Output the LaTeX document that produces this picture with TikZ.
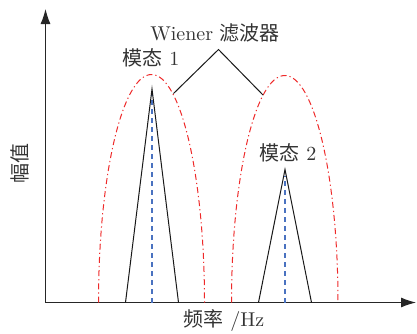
\documentclass[tikz,border=0pt]{standalone}
\usepackage{fontspec}
\newfontfamily\cjk{Noto Sans CJK SC}
\usetikzlibrary{arrows.meta}
\definecolor{filtre}{HTML}{EE2A2A}
\definecolor{centre}{HTML}{4A72C0}

\begin{document}
\begin{tikzpicture}[
  x=0.5pt, y=-0.5pt,
  font=\normalsize,
  axe/.style={-{Latex[length=7.5pt, width=5pt]}, black!85, line width=0.5pt},
  pic/.style={black!90, line width=0.5pt},
  fenetre/.style={filtre, line width=0.5pt, dash pattern=on 3pt off 1.5pt on 0.6pt off 1.5pt},
  axecentral/.style={centre, line width=0.7pt, dash pattern=on 2.5pt off 2pt},
  etiq/.style={text=black!80, inner sep=1pt},
]
\useasboundingbox (0,0) rectangle (417,333);
% axes
\coordinate (o) at (45.5,302.5);
\coordinate (ytop) at (45.5,9);
\coordinate (xend) at (416,302.5);
\draw[axe] (o) -- (ytop);
\draw[axe] (o) -- (xend);
\node[etiq, rotate=90] (ylab) at (20,163) {\cjk 幅值};
\node[etiq] (xlab) at (224,321) {{\cjk 频率} /Hz};
% les deux fenetres de Wiener
\draw[fenetre] (98.5,302.5) arc[start angle=180, end angle=360, x radius=53, y radius=228];
\draw[fenetre] (231.5,302.5) arc[start angle=180, end angle=360, x radius=53.25, y radius=227];
% les deux modes
\coordinate (p1) at (152,89);
\coordinate (b1) at (152,302.5);
\coordinate (p2) at (285,169.5);
\coordinate (b2) at (285,302.5);
\draw[axecentral] (b1) -- ([yshift=-3pt]p1);
\draw[axecentral] (b2) -- ([yshift=-3pt]p2);
\draw[pic] (125.5,302.5) -- (p1) -- (178.5,302.5);
\draw[pic] (258.5,302.5) -- (p2) -- (311.5,302.5);
\node[etiq] (mode1) at (151,58) {{\cjk 模态} 1};
\node[etiq] (mode2) at (288,153) {{\cjk 模态} 2};
% renvoi vers les fenetres
\node[etiq] (wiener) at (215,33) {Wiener {\cjk 滤波器}};
\coordinate (sommet) at (218.5,49.5);
\coordinate (f1) at (173.5,93.5);
\coordinate (f2) at (263,95);
\draw[pic] (f1) -- (sommet) -- (f2);
\end{tikzpicture}
\end{document}
